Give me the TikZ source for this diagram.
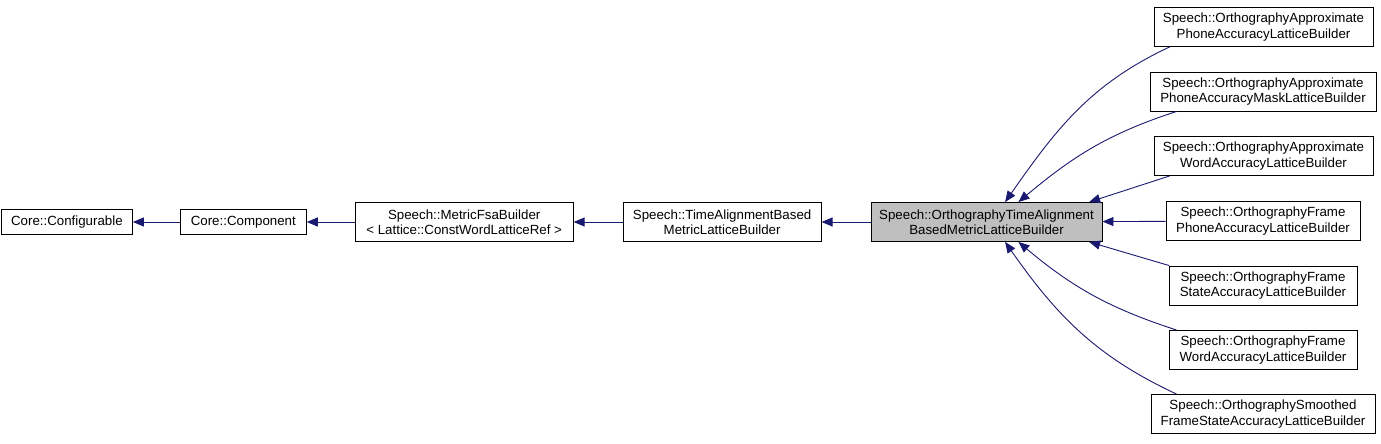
\documentclass[tikz,border=0pt]{standalone}
\usepackage{fontspec}
\setmainfont{Liberation Sans}
\usepackage{xcolor}
\usepackage{tikz}
\usetikzlibrary{arrows.meta,positioning}

\definecolor{edgeblue}{RGB}{25,25,112}
\definecolor{focusgray}{RGB}{191,191,191}

\begin{document}
\begin{tikzpicture}[x=1pt, y=-1pt, node distance=48pt,
  every node/.style={font=\fontsize{13.3}{15.5}\selectfont},
  cls/.style={draw, line width=0.9pt, align=center, inner xsep=6pt, inner ysep=2pt, minimum height=25pt, fill=white},
  cls2/.style={cls, minimum height=39pt},
  edge/.style={draw=edgeblue, line width=0.9pt, -{Triangle[length=11pt,width=9pt]}}]
  \useasboundingbox (0,0) rectangle (1381,444);
  % inheritance chain
  \node[cls2,fill=focusgray,minimum width=231pt] (ortho) at (986.5,222) {Speech::OrthographyTimeAlignment\\BasedMetricLatticeBuilder};
  \node[cls2,minimum width=198pt,left=49pt of ortho] (tab) {Speech::TimeAlignmentBased\\MetricLatticeBuilder};
  \node[cls2,minimum width=218pt,left=49pt of tab] (fsa) {Speech::MetricFsaBuilder\\< Lattice::ConstWordLatticeRef >};
  \node[cls,minimum width=126pt,left=48pt of fsa] (comp) {Core::Component};
  \node[cls,minimum width=131pt,left=47pt of comp] (conf) {Core::Configurable};
  \draw[edge] (comp) -- (conf);
  \draw[edge] (fsa) -- (comp);
  \draw[edge] (tab) -- (fsa);
  \draw[edge] (ortho) -- (tab);
  % derived classes
  \node[cls2,minimum width=219pt] (apl) at (1263.5,27) {Speech::OrthographyApproximate\\PhoneAccuracyLatticeBuilder};
  \node[cls2,minimum width=226pt] (apm) at (1263,91.5) {Speech::OrthographyApproximate\\PhoneAccuracyMaskLatticeBuilder};
  \node[cls2,minimum width=219pt] (awl) at (1263.5,156) {Speech::OrthographyApproximate\\WordAccuracyLatticeBuilder};
  \node[cls2,minimum width=194pt] (fpl) at (1263,221) {Speech::OrthographyFrame\\PhoneAccuracyLatticeBuilder};
  \node[cls2,minimum width=188pt] (fsl) at (1263,285.5) {Speech::OrthographyFrame\\StateAccuracyLatticeBuilder};
  \node[cls2,minimum width=188pt] (fwl) at (1263,350) {Speech::OrthographyFrame\\WordAccuracyLatticeBuilder};
  \node[cls2,minimum width=224pt] (sfl) at (1263,414) {Speech::OrthographySmoothed\\FrameStateAccuracyLatticeBuilder};
  \draw[edge] (apl.192) to[out=205, in=55] (ortho.47);
  \draw[edge] (apm.193) to[out=198, in=40] (ortho.32);
  \draw[edge] (awl.192) -- (ortho.11.5);
  \draw[edge] (fpl) -- (ortho);
  \draw[edge] (fsl.168) -- (ortho.-11.5);
  \draw[edge] (fwl.167) to[out=162, in=-40] (ortho.-32);
  \draw[edge] (sfl.167) to[out=155, in=-55] (ortho.-47);
\end{tikzpicture}
\end{document}
